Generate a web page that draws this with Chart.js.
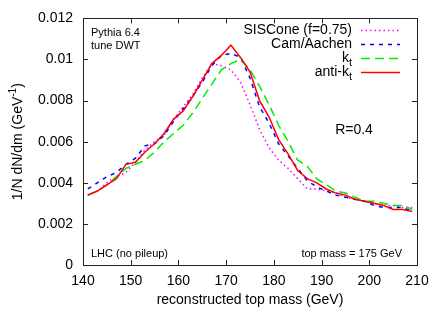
<!DOCTYPE html>
<html>
<head>
<meta charset="utf-8">
<script src="https://cdn.jsdelivr.net/npm/chart.js@4"></script>
<style>
  body { margin: 0; background: #fff; }
  #wrap { width: 443px; height: 310px; }
</style>
</head>
<body>
<div id="wrap"><canvas id="top-mass"></canvas></div>
<script>
const FONT = "'Liberation Sans', Arial, sans-serif";

// bin centres (GeV)
const masses = [141, 143, 145, 147, 149, 151, 153, 155, 157, 159, 161, 163, 165, 167, 169, 171, 173, 175,
  177, 179, 181, 183, 185, 187, 189, 191, 193, 195, 197, 199, 201, 203, 205, 207, 209];

const sisCone = [0.0034, 0.0036, 0.0040, 0.0043, 0.0045, 0.0050, 0.0056, 0.0060, 0.0063, 0.0071, 0.0077, 0.0083,
  0.0091, 0.0098, 0.0097, 0.0095, 0.0089, 0.0078, 0.0066, 0.0057, 0.0051, 0.0047, 0.0042, 0.0037, 0.0037,
  0.0036, 0.0035, 0.0033, 0.0032, 0.0031, 0.0030, 0.0029, 0.0029, 0.0028, 0.0028];

const camAachen = [0.0037, 0.0040, 0.0043, 0.0045, 0.0049, 0.0052, 0.0058, 0.0059, 0.0063, 0.0070, 0.0076, 0.0082,
  0.0089, 0.0097, 0.0102, 0.0103, 0.0101, 0.0091, 0.0077, 0.0069, 0.0059, 0.0053, 0.0047, 0.0041, 0.0038,
  0.0036, 0.0034, 0.0033, 0.0032, 0.0031, 0.0029, 0.0028, 0.0028, 0.0028, 0.0026];

const kt = [0.0034, 0.0036, 0.0039, 0.0043, 0.0047, 0.0049, 0.0051, 0.0055, 0.0060, 0.0064, 0.0068, 0.0074,
  0.0081, 0.0088, 0.0095, 0.0098, 0.0100, 0.0095, 0.0087, 0.0078, 0.0068, 0.0060, 0.0051, 0.0048, 0.0042,
  0.0039, 0.0036, 0.0035, 0.0033, 0.0031, 0.0031, 0.0030, 0.0029, 0.0029, 0.0027];

const antiKt = [0.0034, 0.0036, 0.0039, 0.0042, 0.0049, 0.0050, 0.0055, 0.0059, 0.0064, 0.0071, 0.0075, 0.0082,
  0.0090, 0.0098, 0.0102, 0.0107, 0.0101, 0.0094, 0.0080, 0.0072, 0.0061, 0.0054, 0.0046, 0.0042, 0.0040,
  0.0037, 0.0035, 0.0034, 0.0032, 0.0031, 0.0030, 0.0029, 0.0027, 0.0027, 0.0026];

const xTickValues = [140, 150, 160, 170, 180, 190, 200, 210];
const yTickValues = [0, 0.002, 0.004, 0.006, 0.008, 0.01, 0.012];
const yTickLabels = ["0", "0.002", "0.004", "0.006", "0.008", "0.01", "0.012"];

function pts(values) {
  return masses.map((m, i) => ({ x: m, y: values[i] }));
}

// legend entries: [main text, subscript, colour, dash]
const legendItems = [
  ["SISCone (f=0.75)", "", "#ff00ff", [1.5, 3]],
  ["Cam/Aachen", "", "#0000ff", [4, 5]],
  ["k", "t", "#00ee00", [9, 5]],
  ["anti-k", "t", "#ff0000", []]
];

// frame with inward ticks on all four sides, like gnuplot
const frame = {
  id: "frame",
  afterDatasetsDraw(chart) {
    const { ctx, chartArea: a, scales } = chart;
    ctx.save();
    ctx.strokeStyle = "#222";
    ctx.lineWidth = 1;
    ctx.beginPath();
    xTickValues.forEach(v => {
      const px = Math.round(scales.x.getPixelForValue(v)) + 0.5;
      ctx.moveTo(px, a.bottom); ctx.lineTo(px, a.bottom - 5);
      ctx.moveTo(px, a.top); ctx.lineTo(px, a.top + 5);
    });
    yTickValues.forEach(v => {
      const py = Math.round(scales.y.getPixelForValue(v)) + 0.5;
      ctx.moveTo(a.left, py); ctx.lineTo(a.left + 5, py);
      ctx.moveTo(a.right, py); ctx.lineTo(a.right - 5, py);
    });
    ctx.stroke();
    ctx.strokeRect(Math.round(a.left) + 0.5, Math.round(a.top) + 0.5,
      Math.round(a.right - a.left), Math.round(a.bottom - a.top));
    ctx.restore();
  },
  afterDraw(chart) {
    const { ctx, chartArea: a } = chart;
    ctx.save();
    ctx.fillStyle = "#000";
    ctx.textBaseline = "middle";

    // small annotations
    ctx.font = "11px " + FONT;
    ctx.textAlign = "left";
    ctx.fillText("Pythia 6.4", a.left + 8, a.top + 15);
    ctx.fillText("tune DWT", a.left + 8, a.top + 28);
    ctx.fillText("LHC (no pileup)", a.left + 8, a.bottom - 11);
    ctx.textAlign = "right";
    ctx.fillText("top mass = 175 GeV", a.right - 15, a.bottom - 11);

    ctx.font = "14px " + FONT;
    ctx.textAlign = "center";
    ctx.fillText("R=0.4", 354, 130);

    // legend
    legendItems.forEach((it, i) => {
      const y = 30 + i * 14;
      const right = 352;
      ctx.font = "11px " + FONT;
      const subW = it[1] ? ctx.measureText(it[1]).width : 0;
      ctx.font = "14px " + FONT;
      ctx.textAlign = "right";
      ctx.fillText(it[0], right - subW, y);
      if (it[1]) {
        ctx.font = "11px " + FONT;
        ctx.textAlign = "left";
        ctx.fillText(it[1], right - subW, y + 5);
      }
      ctx.strokeStyle = it[2];
      ctx.lineWidth = 1.5;
      ctx.setLineDash(it[3]);
      ctx.beginPath();
      ctx.moveTo(361, y + 0.5);
      ctx.lineTo(400, y + 0.5);
      ctx.stroke();
    });
    ctx.setLineDash([]);

    // axis titles
    ctx.font = "14px " + FONT;
    ctx.textAlign = "center";
    ctx.fillText("reconstructed top mass (GeV)", (a.left + a.right) / 2, 300);

    ctx.translate(18, (a.top + a.bottom) / 2);
    ctx.rotate(-Math.PI / 2);
    const base = "1/N dN/dm (GeV";
    ctx.font = "14px " + FONT;
    const wBase = ctx.measureText(base).width;
    const wClose = ctx.measureText(")").width;
    ctx.font = "10px " + FONT;
    const wSup = ctx.measureText("-1").width;
    let x0 = -(wBase + wSup + wClose) / 2;
    ctx.textAlign = "left";
    ctx.font = "14px " + FONT;
    ctx.fillText(base, x0, 0);
    ctx.font = "10px " + FONT;
    ctx.fillText("-1", x0 + wBase, -5);
    ctx.font = "14px " + FONT;
    ctx.fillText(")", x0 + wBase + wSup, 0);
    ctx.restore();
  }
};

new Chart(document.getElementById("top-mass"), {
  type: "line",
  data: {
    datasets: [
      { label: "SISCone (f=0.75)", data: pts(sisCone), borderColor: "#ff00ff", borderDash: [1.5, 3], order: 4 },
      { label: "Cam/Aachen", data: pts(camAachen), borderColor: "#0000ff", borderDash: [4, 5], order: 3 },
      { label: "kt", data: pts(kt), borderColor: "#00ee00", borderDash: [9, 5], order: 2 },
      { label: "anti-kt", data: pts(antiKt), borderColor: "#ff0000", borderDash: [], order: 1 }
    ]
  },
  options: {
    responsive: true,
    maintainAspectRatio: false,
    animation: false,
    layout: { padding: { top: 17, right: 26, left: 0, bottom: 0 } },
    elements: {
      point: { radius: 0 },
      line: { borderWidth: 1.5, tension: 0, fill: false }
    },
    plugins: { legend: { display: false }, tooltip: { enabled: false } },
    scales: {
      x: {
        type: "linear",
        min: 140,
        max: 210,
        afterBuildTicks: s => { s.ticks = xTickValues.map(v => ({ value: v })); },
        afterFit: s => { s.height = 45; },
        grid: { display: false, drawTicks: false },
        border: { display: false },
        ticks: { color: "#000", font: { family: FONT, size: 14 }, padding: 8, maxRotation: 0 }
      },
      y: {
        min: 0,
        max: 0.012,
        afterBuildTicks: s => { s.ticks = yTickValues.map(v => ({ value: v })); },
        afterFit: s => { s.width = 83; },
        grid: { display: false, drawTicks: false },
        border: { display: false },
        ticks: {
          color: "#000",
          font: { family: FONT, size: 14 },
          padding: 10,
          callback: (v, i) => yTickLabels[i]
        }
      }
    }
  },
  plugins: [frame]
});
</script>
</body>
</html>
